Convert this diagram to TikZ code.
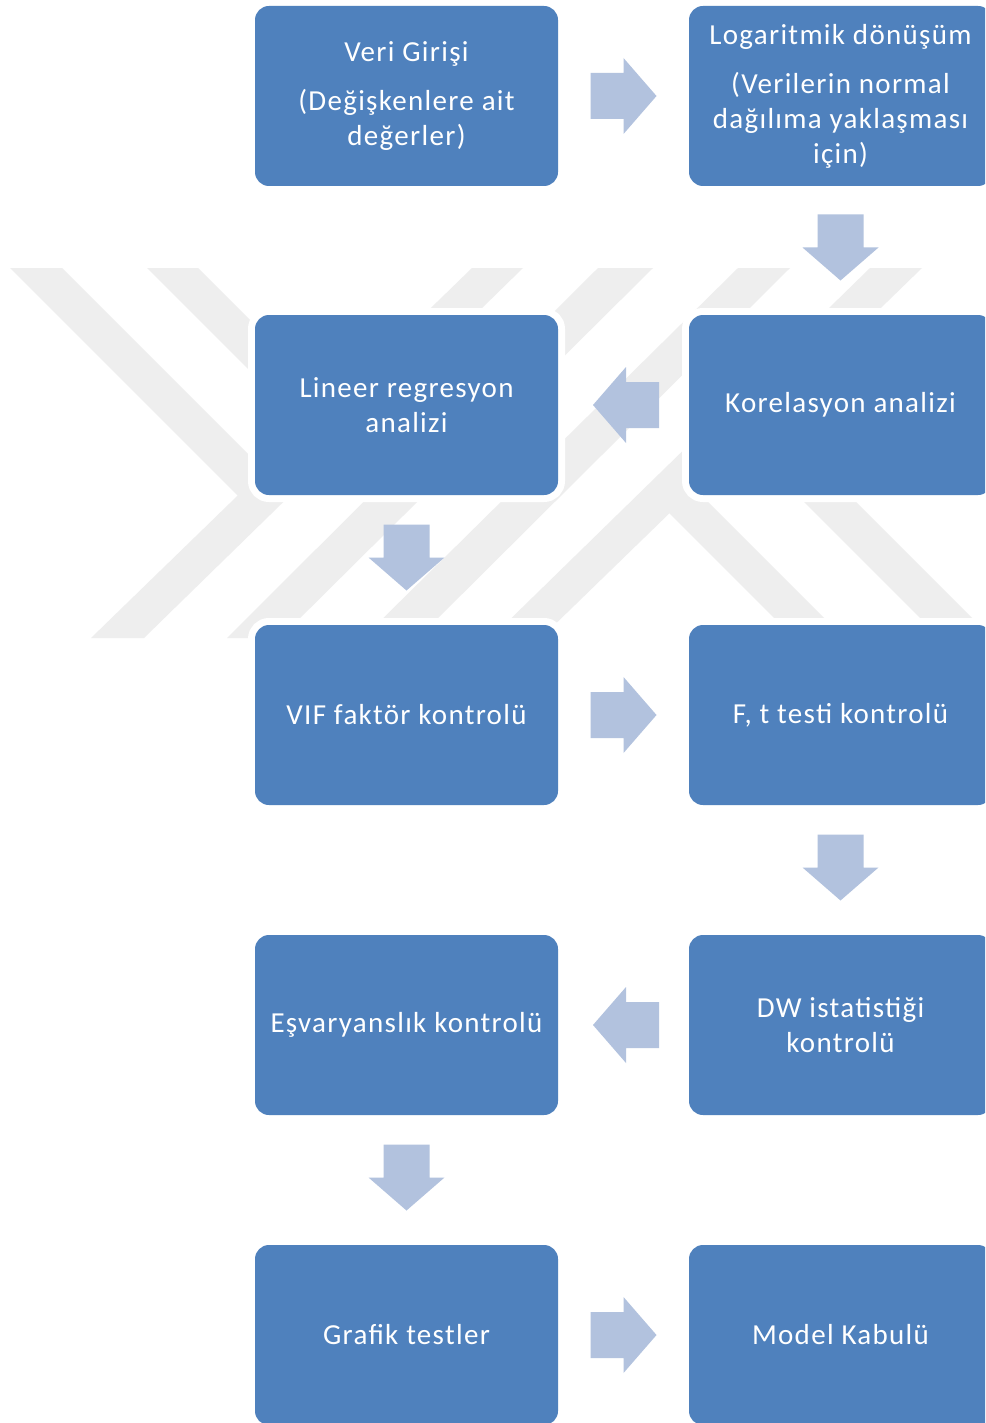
\documentclass[tikz,border=0pt]{standalone}
\usepackage{fontspec}
\setmainfont{Carlito}[LetterSpace=4.5]
\usetikzlibrary{calc}
\definecolor{boxblue}{HTML}{4F81BD}
\definecolor{arrowblue}{HTML}{B2C2DE}
\definecolor{wmgray}{HTML}{EEEEEE}
\begin{document}
\begin{tikzpicture}[x=1pt,y=-1pt,
  box/.style={fill=boxblue, rounded corners=14pt, minimum width=303pt, minimum height=180pt,
    inner sep=0pt, text=white, align=center, font=\fontsize{29}{35}\selectfont,
    preaction={draw=white, line width=14pt}},
  wm/.style={fill=wmgray},
  barrow/.pic={\fill[arrowblue] (-33,-23) -- (0,-23) -- (0,-38) -- (33,0) -- (0,38) -- (0,23) -- (-33,23) -- cycle;}
]
\useasboundingbox (0,0) rectangle (985,1423);
\clip (0,0) rectangle (985,1423);
\fill[white] (0,0) rectangle (985,1423);

% watermark
\fill[wm] (10,268) -- (62,268) -- (277,483) -- (250.5,508.5) -- cycle;
\fill[wm] (147,268) -- (198,268) -- (344,414) -- (320,441) -- cycle;
\fill[wm] (472,268) -- (523,268) -- (144,638) -- (91,638) -- cycle;
\fill[wm] (598,268) -- (653,268) -- (280,638) -- (227,638) -- cycle;
\fill[wm] (738,268) -- (790,268) -- (418,638) -- (363,638) -- cycle;
\fill[wm] (870,268) -- (922,268) -- (541,638) -- (491,638) -- cycle;
\fill[wm] (656.8,500.8) -- (682.2,476.2) -- (844,638) -- (794,638) -- cycle;
\fill[wm] (730.8,428.8) -- (757.2,403.2) -- (992,638) -- (940,638) -- cycle;

% boxes
\node[box] (veri)  at (406.5,96)   {Veri Girişi\\[14pt](Değişkenlere ait\\değerler)};
\node[box] (log)   at (840.5,96)   {Logaritmik dönüşüm\\[14pt](Verilerin normal\\dağılıma yaklaşması\\için)};
\node[box] (kor)   at (840.5,405)  {Korelasyon analizi};
\node[box] (lin)   at (406.5,405)  {Lineer regresyon\\analizi};
\node[box] (vif)   at (406.5,715)  {VIF faktör kontrolü};
\node[box] (ft)    at (840.5,715)  {F, t testi kontrolü};
\node[box] (dw)    at (840.5,1025) {DW istatistiği\\kontrolü};
\node[box] (esv)   at (406.5,1025) {Eşvaryanslık kontrolü};
\node[box] (graf)  at (406.5,1335) {Grafik testler};
\node[box] (model) at (840.5,1335) {Model Kabulü};

% block arrows
\coordinate (a1) at ($(veri.east)!0.5!(log.west)$);
\coordinate (a2) at ($(log.south)!0.5!(kor.north)+(0,-3)$);
\coordinate (a3) at ($(kor.west)!0.5!(lin.east)+(2.5,0)$);
\coordinate (a4) at ($(lin.south)!0.5!(vif.north)+(0,-2.5)$);
\coordinate (a5) at ($(vif.east)!0.5!(ft.west)$);
\coordinate (a6) at ($(ft.south)!0.5!(dw.north)+(0,-2.5)$);
\coordinate (a7) at ($(dw.west)!0.5!(esv.east)+(2.5,0)$);
\coordinate (a8) at ($(esv.south)!0.5!(graf.north)+(0,-2.5)$);
\coordinate (a9) at ($(graf.east)!0.5!(model.west)$);
\pic at (a1) {barrow};
\pic[rotate=-90] at (a2) {barrow};
\pic[rotate=180] at (a3) {barrow};
\pic[rotate=-90] at (a4) {barrow};
\pic at (a5) {barrow};
\pic[rotate=-90] at (a6) {barrow};
\pic[rotate=180] at (a7) {barrow};
\pic[rotate=-90] at (a8) {barrow};
\pic at (a9) {barrow};
\end{tikzpicture}
\end{document}
